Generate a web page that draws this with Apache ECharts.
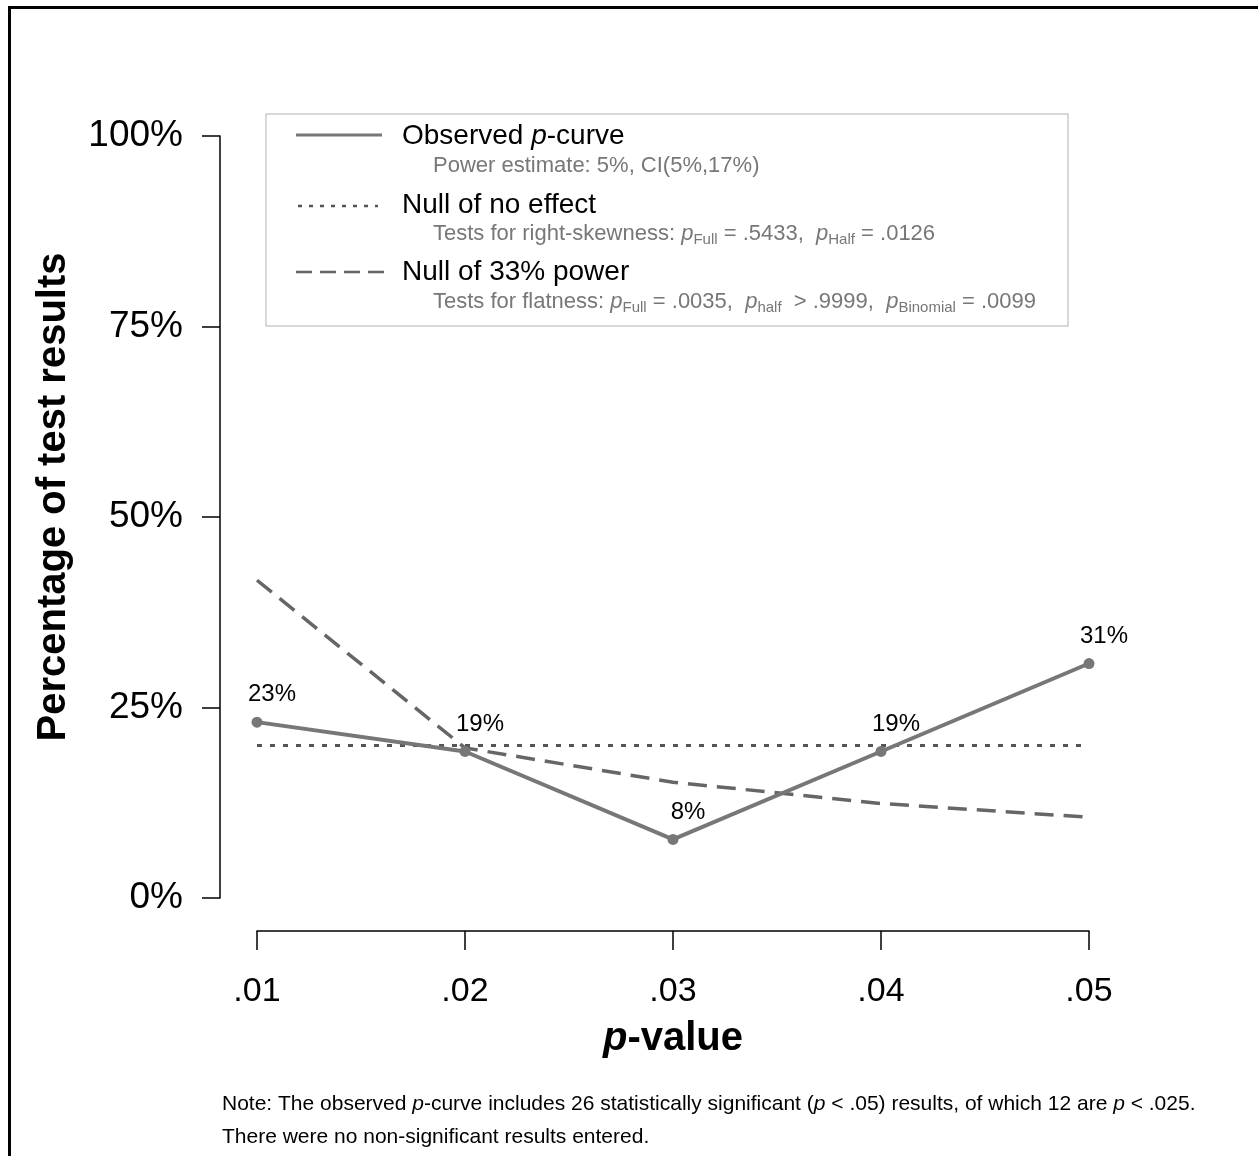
<!DOCTYPE html>
<html>
<head>
<meta charset="utf-8">
<script src="https://cdn.jsdelivr.net/npm/echarts@6/dist/echarts.min.js"></script>
<style>
html,body{margin:0;padding:0;background:#fff;}
#c{width:1258px;height:1156px;}
</style>
</head>
<body>
<div id="c"></div>
<script>
const categories = ['.01', '.02', '.03', '.04', '.05'];
const observed = [23.08, 19.23, 7.69, 19.23, 30.77];
const observedLabels = ['23%', '19%', '8%', '19%', '31%'];
const nullNoEffect = [20, 20, 20, 20, 20];
const null33 = [41.7, 19.7, 15.2, 12.4, 10.6];
const yTicks = [0, 25, 50, 75, 100];

const FONT = '"Liberation Sans", Arial, Helvetica, sans-serif';
const chart = echarts.init(document.getElementById('c'), null, {renderer: 'canvas'});

function txt(x, y, text, rich, extra) {
  return {
    type: 'text', x: x, y: y, z: 11,
    style: Object.assign({text: text, rich: rich, fontFamily: FONT, verticalAlign: 'middle', align: 'left'}, extra || {})
  };
}
const mainRich = {
  n: {fontSize: 28, fontFamily: FONT, fill: '#000', color: '#000'},
  i: {fontSize: 28, fontFamily: FONT, fontStyle: 'italic', fill: '#000', color: '#000'}
};
const subRich = {
  g: {fontSize: 22, fontFamily: FONT, fill: '#777', color: '#777', lineHeight: 26},
  gi: {fontSize: 22, fontFamily: FONT, fontStyle: 'italic', fill: '#777', color: '#777', lineHeight: 26},
  s: {fontSize: 15, fontFamily: FONT, fill: '#777', color: '#777', lineHeight: 26, verticalAlign: 'bottom'}
};
const noteRich = {
  n: {fontSize: 21, fontFamily: FONT, fill: '#000', color: '#000'},
  i: {fontSize: 21, fontFamily: FONT, fontStyle: 'italic', fill: '#000', color: '#000'}
};

const option = {
  backgroundColor: '#fff',
  animation: false,
  grid: {left: 257, right: 169, top: 136, bottom: 258, containLabel: false},
  xAxis: {
    type: 'category', data: categories, boundaryGap: false, offset: 33,
    axisLine: {show: true, onZero: false, lineStyle: {color: '#000', width: 1.5}},
    axisTick: {show: true, length: 19, alignWithLabel: true, lineStyle: {color: '#000', width: 1.5}},
    axisLabel: {fontSize: 34, fontFamily: FONT, color: '#000', margin: 44},
    splitLine: {show: false},
    name: '{i|p}{b|-value}', nameLocation: 'middle', nameGap: 88,
    nameTextStyle: {rich: {
      i: {fontSize: 40, fontWeight: 'bold', fontStyle: 'italic', fontFamily: FONT, color: '#000'},
      b: {fontSize: 40, fontWeight: 'bold', fontFamily: FONT, color: '#000'}
    }}
  },
  yAxis: {
    type: 'value', min: 0, max: 100, interval: 25, offset: 37,
    axisLine: {show: true, lineStyle: {color: '#000', width: 1.5}},
    axisTick: {show: true, length: 18, lineStyle: {color: '#000', width: 1.5}},
    axisLabel: {fontSize: 37, fontFamily: FONT, color: '#000', margin: 37, formatter: '{value}%'},
    splitLine: {show: false}
  },
  series: [
    {
      name: 'Null of no effect', type: 'line', data: nullNoEffect, symbol: 'none',
      lineStyle: {color: '#555', width: 3, type: [5, 8]}, z: 2
    },
    {
      name: 'Null of 33% power', type: 'line', data: null33, symbol: 'none',
      lineStyle: {color: '#666', width: 3.5, type: [19, 10]}, z: 2
    },
    {
      name: 'Observed p-curve', type: 'line', data: observed, symbol: 'circle', symbolSize: 11,
      itemStyle: {color: '#777'},
      lineStyle: {color: '#777', width: 4}, z: 3,
      label: {show: true, position: 'top', distance: 10, offset: [15, 0], fontSize: 24, fontFamily: FONT, color: '#000',
        formatter: function (p) { return observedLabels[p.dataIndex]; }}
    }
  ],
  graphic: [
    {type: 'line', shape: {x1: 9, y1: 7.5, x2: 1258, y2: 7.5}, style: {stroke: '#000', lineWidth: 3}},
    {type: 'line', shape: {x1: 9.5, y1: 6, x2: 9.5, y2: 1156}, style: {stroke: '#000', lineWidth: 3}},
    {type: 'rect', shape: {x: 266, y: 114, width: 802, height: 212}, style: {fill: '#fff', stroke: '#ccc', lineWidth: 1.5}, z: 10},
    {type: 'line', shape: {x1: 296, y1: 135, x2: 382, y2: 135}, style: {stroke: '#777', lineWidth: 3}, z: 11},
    {type: 'line', shape: {x1: 298, y1: 206, x2: 378, y2: 206}, style: {stroke: '#555', lineWidth: 2.5, lineDash: [4, 7]}, z: 11},
    {type: 'line', shape: {x1: 296, y1: 272, x2: 384, y2: 272}, style: {stroke: '#666', lineWidth: 2.5, lineDash: [16, 8]}, z: 11},
    txt(402, 136, '{n|Observed }{i|p}{n|-curve}', mainRich),
    txt(433, 166, '{g|Power estimate: 5%, CI(5%,17%)}', subRich),
    txt(402, 205, '{n|Null of no effect}', mainRich),
    txt(433, 234, '{g|Tests for right-skewness: }{gi|p}{s|Full}{g| = .5433,  }{gi|p}{s|Half}{g| = .0126}', subRich),
    txt(402, 272, '{n|Null of 33% power}', mainRich),
    txt(433, 302, '{g|Tests for flatness: }{gi|p}{s|Full}{g| = .0035,  }{gi|p}{s|half}{g|  > .9999,  }{gi|p}{s|Binomial}{g| = .0099}', subRich),
    {type: 'text', x: 54, y: 497, rotation: Math.PI / 2,
      style: {text: 'Percentage of test results', fontSize: 40, fontWeight: 'bold', fontFamily: FONT, fill: '#000', align: 'center', verticalAlign: 'middle'}},
    Object.assign(txt(222, 1104, '{n|Note: The observed }{i|p}{n|-curve includes 26 statistically significant (}{i|p}{n| < .05) results, of which 12 are }{i|p}{n| < .025.}', noteRich), {z: 1}),
    Object.assign(txt(222, 1137, '{n|There were no non-significant results entered.}', noteRich), {z: 1})
  ]
};
chart.setOption(option);
</script>
</body>
</html>
